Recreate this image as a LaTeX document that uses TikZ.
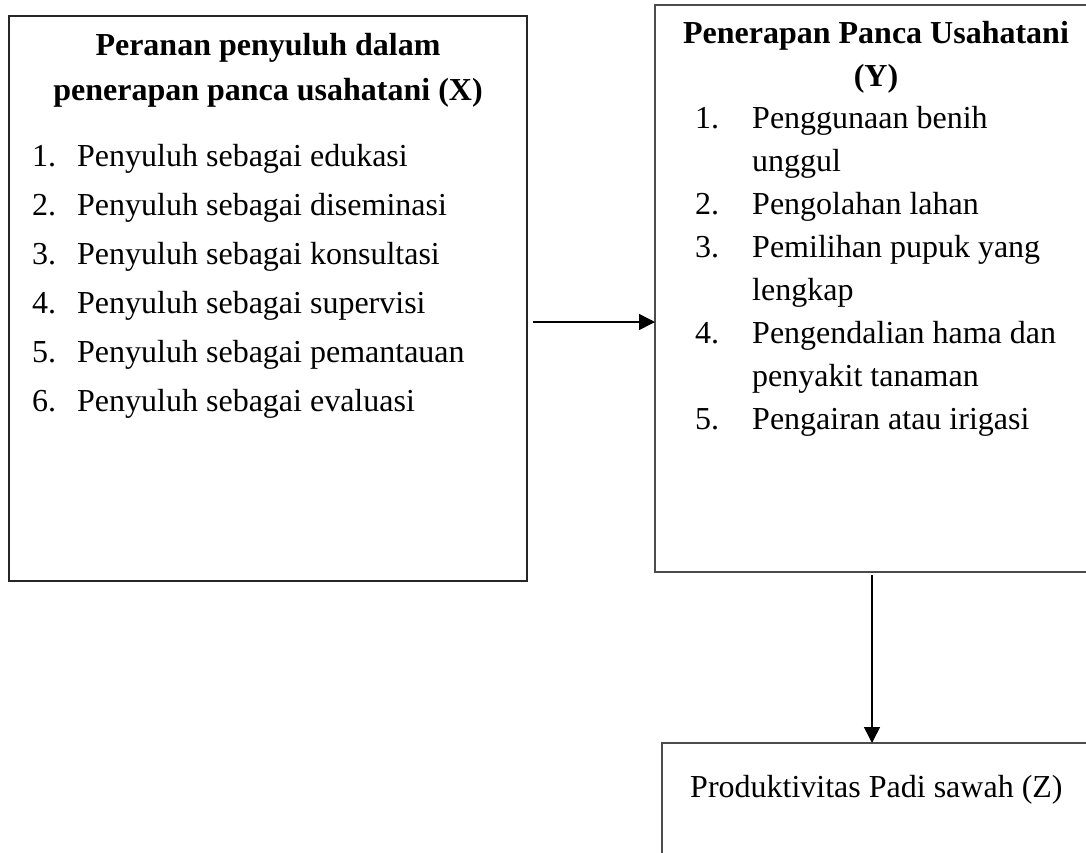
\documentclass[tikz,border=0pt]{standalone}
\usepackage{fontspec}
\setmainfont{Liberation Serif}
\usetikzlibrary{arrows.meta}
\begin{document}
\begin{tikzpicture}[x=1pt,y=-1pt,
  box/.style={draw=black!85,line width=1.5pt,inner sep=0pt,outer sep=0pt},
  gbox/.style={box,draw=black!70},
  txt/.style={inner sep=0pt,anchor=base west,font=\fontsize{32}{38}\selectfont},
  ttl/.style={inner sep=0pt,anchor=base,font=\fontsize{32}{38}\selectfont\bfseries},
  arr/.style={line width=1.5pt,-{Triangle[length=16pt,width=16pt]}}]
\clip (0,0) rectangle (1086,852);
\fill[white] (0,0) rectangle (1086,852);
% boxes
\node[box,minimum width=518pt,minimum height=565pt,anchor=north west] (X) at (9,16) {};
\node[gbox,minimum width=450pt,minimum height=567pt,anchor=north west] (Y) at (655,5) {};
\node[gbox,minimum width=440pt,minimum height=140pt,anchor=north west] (Z) at (662,743) {};
% left box
\node[ttl] (xt1) at (268,55) {Peranan penyuluh dalam};
\node[ttl] (xt2) at (268,100) {penerapan panca usahatani (X)};
\foreach \i/\t in {1/edukasi,2/diseminasi,3/konsultasi,4/supervisi,5/pemantauan,6/evaluasi}{
  \node[txt] (xn\i) at (32,{166+49*(\i-1)}) {\i.};
  \node[txt] (xi\i) at (77,{166+49*(\i-1)}) {Penyuluh sebagai \t};
}
% right box
\node[ttl] (yt1) at (876,43) {Penerapan Panca Usahatani};
\node[ttl] (yt2) at (876,86) {(Y)};
\node[txt] (yn1) at (695,128) {1.};
\node[txt] (yi1) at (752,128) {Penggunaan benih};
\node[txt] (yi1b) at (752,171) {unggul};
\node[txt] (yn2) at (695,214) {2.};
\node[txt] (yi2) at (752,214) {Pengolahan lahan};
\node[txt] (yn3) at (695,257) {3.};
\node[txt] (yi3) at (752,257) {Pemilihan pupuk yang};
\node[txt] (yi3b) at (752,300) {lengkap};
\node[txt] (yn4) at (695,343) {4.};
\node[txt] (yi4) at (752,343) {Pengendalian hama dan};
\node[txt] (yi4b) at (752,386) {penyakit tanaman};
\node[txt] (yn5) at (695,429) {5.};
\node[txt] (yi5) at (752,429) {Pengairan atau irigasi};
% bottom box
\node[txt] (zt) at (690,797) {Produktivitas Padi sawah (Z)};
% connectors
\coordinate (a1) at (533,322);
\draw[arr] (a1) -- (a1 -| Y.west);
\coordinate (a2) at (872,575);
\draw[arr] (a2) -- (a2 |- Z.north);
\end{tikzpicture}
\end{document}
